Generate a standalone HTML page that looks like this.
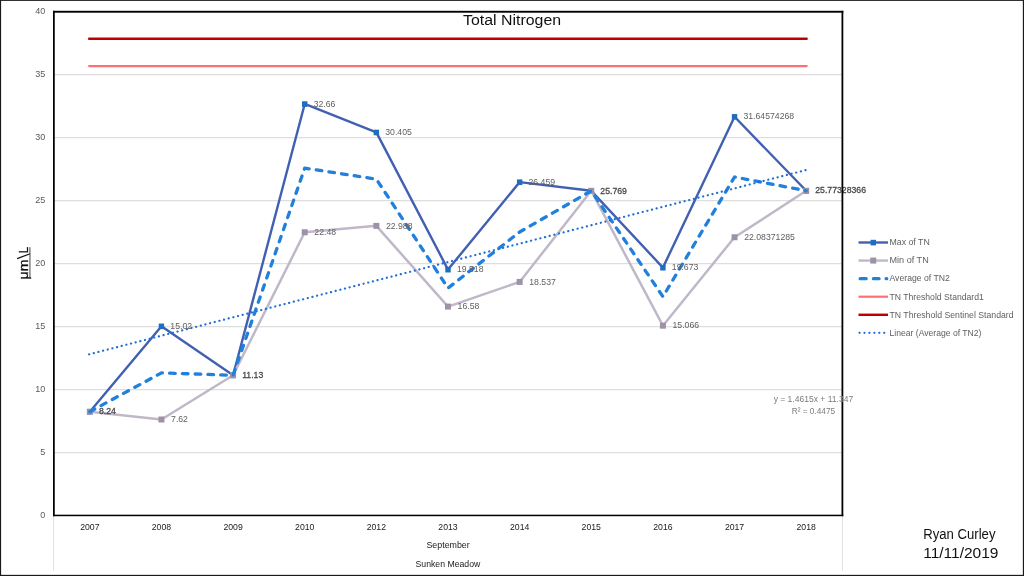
<!DOCTYPE html>
<html><head><meta charset="utf-8"><title>Total Nitrogen</title>
<style>html,body{margin:0;padding:0;background:#fff;}body{width:1024px;height:576px;overflow:hidden;font-family:"Liberation Sans",sans-serif;}svg{display:block;will-change:transform;}text{font-family:"Liberation Sans",sans-serif;}</style>
</head><body>
<svg width="1024" height="576" viewBox="0 0 1024 576">
<rect x="0" y="0" width="1024" height="576" fill="#ffffff"/>
<line x1="54.0" x2="842.0" y1="452.60" y2="452.60" stroke="#dedede" stroke-width="1.2"/>
<line x1="54.0" x2="842.0" y1="389.60" y2="389.60" stroke="#dedede" stroke-width="1.2"/>
<line x1="54.0" x2="842.0" y1="326.60" y2="326.60" stroke="#dedede" stroke-width="1.2"/>
<line x1="54.0" x2="842.0" y1="263.60" y2="263.60" stroke="#dedede" stroke-width="1.2"/>
<line x1="54.0" x2="842.0" y1="200.60" y2="200.60" stroke="#dedede" stroke-width="1.2"/>
<line x1="54.0" x2="842.0" y1="137.60" y2="137.60" stroke="#dedede" stroke-width="1.2"/>
<line x1="54.0" x2="842.0" y1="74.60" y2="74.60" stroke="#dedede" stroke-width="1.2"/>
<line x1="53.5" x2="53.5" y1="516" y2="571" stroke="#e2e2e2" stroke-width="1"/>
<line x1="842.5" x2="842.5" y1="516" y2="571" stroke="#e2e2e2" stroke-width="1"/>
<polyline points="89.82,411.68 161.45,326.25 233.09,375.26 304.73,103.98 376.36,132.40 448.00,269.57 519.64,182.12 591.27,190.81 662.91,267.62 734.55,116.76 806.18,190.76" fill="none" stroke="#4160b0" stroke-width="2.4" stroke-linejoin="round" stroke-linecap="round"/>
<rect x="87.12" y="408.98" width="5.4" height="5.6" fill="#1f6dc1"/>
<rect x="158.75" y="323.55" width="5.4" height="5.6" fill="#1f6dc1"/>
<rect x="230.39" y="372.56" width="5.4" height="5.6" fill="#1f6dc1"/>
<rect x="302.03" y="101.28" width="5.4" height="5.6" fill="#1f6dc1"/>
<rect x="373.66" y="129.70" width="5.4" height="5.6" fill="#1f6dc1"/>
<rect x="445.30" y="266.87" width="5.4" height="5.6" fill="#1f6dc1"/>
<rect x="516.94" y="179.42" width="5.4" height="5.6" fill="#1f6dc1"/>
<rect x="588.57" y="188.11" width="5.4" height="5.6" fill="#1f6dc1"/>
<rect x="660.21" y="264.92" width="5.4" height="5.6" fill="#1f6dc1"/>
<rect x="731.85" y="114.06" width="5.4" height="5.6" fill="#1f6dc1"/>
<rect x="803.48" y="188.06" width="5.4" height="5.6" fill="#1f6dc1"/>
<polyline points="89.82,411.68 161.45,419.49 233.09,375.26 304.73,232.25 376.36,225.85 448.00,306.59 519.64,281.93 591.27,190.81 662.91,325.67 734.55,237.25 806.18,190.76" fill="none" stroke="#c0b8c8" stroke-width="2.5" stroke-linejoin="round" stroke-linecap="round"/>
<rect x="86.82" y="408.68" width="6" height="6" fill="#9e92a9"/>
<rect x="158.45" y="416.49" width="6" height="6" fill="#9e92a9"/>
<rect x="230.09" y="372.26" width="6" height="6" fill="#9e92a9"/>
<rect x="301.73" y="229.25" width="6" height="6" fill="#9e92a9"/>
<rect x="373.36" y="222.85" width="6" height="6" fill="#9e92a9"/>
<rect x="445.00" y="303.59" width="6" height="6" fill="#9e92a9"/>
<rect x="516.64" y="278.93" width="6" height="6" fill="#9e92a9"/>
<rect x="588.27" y="187.81" width="6" height="6" fill="#9e92a9"/>
<rect x="659.91" y="322.67" width="6" height="6" fill="#9e92a9"/>
<rect x="731.55" y="234.25" width="6" height="6" fill="#9e92a9"/>
<rect x="803.18" y="187.76" width="6" height="6" fill="#9e92a9"/>
<polyline points="89.82,411.68 161.45,372.87 233.09,375.26 304.73,168.12 376.36,179.12 448.00,288.08 519.64,232.03 591.27,190.81 662.91,296.64 734.55,177.00 806.18,190.76" fill="none" stroke="#2180dc" stroke-width="3.3" stroke-dasharray="5.6 7.2" stroke-linejoin="round" stroke-linecap="round"/>
<line x1="89.12" x2="806.68" y1="66.06" y2="66.06" stroke="#ff7075" stroke-width="2.2" stroke-linecap="round"/>
<line x1="89.12" x2="806.68" y1="38.72" y2="38.72" stroke="#c00000" stroke-width="2.4" stroke-linecap="round"/>
<line x1="89.12" y1="354.29" x2="806.48" y2="169.89" stroke="#1f6fd6" stroke-width="2.2" stroke-dasharray="0.1 4.703" stroke-linecap="round"/>
<text x="98.92" y="414.38" font-size="8.7" fill="#484848" stroke="#484848" stroke-width="0.28">8.24</text>
<text x="170.35" y="328.95" font-size="8.7" fill="#606060">15.02</text>
<text x="242.19" y="377.96" font-size="8.7" fill="#484848" stroke="#484848" stroke-width="0.28">11.13</text>
<text x="313.63" y="106.68" font-size="8.7" fill="#606060">32.66</text>
<text x="385.26" y="135.10" font-size="8.7" fill="#606060">30.405</text>
<text x="456.90" y="272.27" font-size="8.7" fill="#606060">19.518</text>
<text x="528.54" y="184.82" font-size="8.7" fill="#606060">26.459</text>
<text x="600.37" y="193.51" font-size="8.7" fill="#484848" stroke="#484848" stroke-width="0.28">25.769</text>
<text x="671.81" y="270.32" font-size="8.7" fill="#606060">19.673</text>
<text x="743.45" y="119.46" font-size="8.7" fill="#606060">31.64574268</text>
<text x="815.28" y="193.46" font-size="8.7" fill="#484848" stroke="#484848" stroke-width="0.28">25.77328366</text>
<text x="171.05" y="422.19" font-size="8.7" fill="#606060">7.62</text>
<text x="314.33" y="234.95" font-size="8.7" fill="#606060">22.48</text>
<text x="385.96" y="228.55" font-size="8.7" fill="#606060">22.988</text>
<text x="457.60" y="309.29" font-size="8.7" fill="#606060">16.58</text>
<text x="529.24" y="284.63" font-size="8.7" fill="#606060">18.537</text>
<text x="672.51" y="328.37" font-size="8.7" fill="#606060">15.066</text>
<text x="744.15" y="239.95" font-size="8.7" fill="#606060">22.08371285</text>
<rect x="53" y="10.8" width="1.75" height="505.4" fill="#000"/>
<rect x="53" y="10.8" width="790.3" height="1.9" fill="#000"/>
<rect x="841.5" y="10.8" width="1.8" height="505.4" fill="#000"/>
<rect x="53" y="514.7" width="790.3" height="1.5" fill="#000"/>
<text x="813.4" y="402.0" font-size="9" fill="#7c7c7c" text-anchor="middle" textLength="79.5" lengthAdjust="spacingAndGlyphs">y = 1.4615x + 11.347</text>
<text x="813.4" y="413.8" font-size="9" fill="#7c7c7c" text-anchor="middle" textLength="43.4" lengthAdjust="spacingAndGlyphs">R² = 0.4475</text>
<text x="45.3" y="518.20" font-size="9" fill="#595959" text-anchor="end">0</text>
<text x="45.3" y="455.20" font-size="9" fill="#595959" text-anchor="end">5</text>
<text x="45.3" y="392.20" font-size="9" fill="#595959" text-anchor="end">10</text>
<text x="45.3" y="329.20" font-size="9" fill="#595959" text-anchor="end">15</text>
<text x="45.3" y="266.20" font-size="9" fill="#595959" text-anchor="end">20</text>
<text x="45.3" y="203.20" font-size="9" fill="#595959" text-anchor="end">25</text>
<text x="45.3" y="140.20" font-size="9" fill="#595959" text-anchor="end">30</text>
<text x="45.3" y="77.20" font-size="9" fill="#595959" text-anchor="end">35</text>
<text x="45.3" y="14.20" font-size="9" fill="#595959" text-anchor="end">40</text>
<text x="89.82" y="529.7" font-size="8.7" fill="#1a1a1a" text-anchor="middle">2007</text>
<text x="161.45" y="529.7" font-size="8.7" fill="#1a1a1a" text-anchor="middle">2008</text>
<text x="233.09" y="529.7" font-size="8.7" fill="#1a1a1a" text-anchor="middle">2009</text>
<text x="304.73" y="529.7" font-size="8.7" fill="#1a1a1a" text-anchor="middle">2010</text>
<text x="376.36" y="529.7" font-size="8.7" fill="#1a1a1a" text-anchor="middle">2012</text>
<text x="448.00" y="529.7" font-size="8.7" fill="#1a1a1a" text-anchor="middle">2013</text>
<text x="519.64" y="529.7" font-size="8.7" fill="#1a1a1a" text-anchor="middle">2014</text>
<text x="591.27" y="529.7" font-size="8.7" fill="#1a1a1a" text-anchor="middle">2015</text>
<text x="662.91" y="529.7" font-size="8.7" fill="#1a1a1a" text-anchor="middle">2016</text>
<text x="734.55" y="529.7" font-size="8.7" fill="#1a1a1a" text-anchor="middle">2017</text>
<text x="806.18" y="529.7" font-size="8.7" fill="#1a1a1a" text-anchor="middle">2018</text>
<text x="448.1" y="548" font-size="9" fill="#1a1a1a" text-anchor="middle" textLength="43.3" lengthAdjust="spacingAndGlyphs">September</text>
<text x="447.9" y="567" font-size="9" fill="#1a1a1a" text-anchor="middle" textLength="64.8" lengthAdjust="spacingAndGlyphs">Sunken Meadow</text>
<text x="512.1" y="24.5" font-size="15.1" fill="#111" text-anchor="middle" textLength="98" lengthAdjust="spacingAndGlyphs">Total Nitrogen</text>
<g transform="translate(27.8,279.5) rotate(-90)">
<text x="0" y="0" font-size="12.8" fill="#111" stroke="#111" stroke-width="0.3" textLength="19.9" lengthAdjust="spacingAndGlyphs">μm</text>
<line x1="20.9" y1="-10.6" x2="25.75" y2="2.3" stroke="#111" stroke-width="1.25"/>
<text x="26.25" y="0" font-size="12.8" fill="#111" stroke="#111" stroke-width="0.3" textLength="6.5" lengthAdjust="spacingAndGlyphs">L</text>
<line x1="0.75" y1="2.15" x2="32.3" y2="2.15" stroke="#444" stroke-width="1"/>
</g>
<line x1="858.5" x2="888" y1="242.5" y2="242.5" stroke="#4160b0" stroke-width="2.4"/>
<rect x="870.55" y="239.8" width="5.4" height="5.6" fill="#1f6dc1"/>
<line x1="858.5" x2="888" y1="260.57" y2="260.57" stroke="#c0b8c8" stroke-width="2.4"/>
<rect x="870.25" y="257.57" width="6" height="6" fill="#9e92a9"/>
<path d="M860.1 278.64H866.2M873.4 278.64H879.1M886.1 278.64H886.8" stroke="#2180dc" stroke-width="3.2" stroke-linecap="round" fill="none"/>
<line x1="858.5" x2="888" y1="296.71" y2="296.71" stroke="#ff7075" stroke-width="2.2"/>
<line x1="858.5" x2="888" y1="314.78" y2="314.78" stroke="#c00000" stroke-width="2.4"/>
<line x1="859.5" x2="888" y1="332.85" y2="332.85" stroke="#1f6fd6" stroke-width="2.2" stroke-dasharray="0.1 4.84" stroke-linecap="round"/>
<text x="889.5" y="245.30" font-size="9" fill="#606060" textLength="40.2" lengthAdjust="spacingAndGlyphs">Max of TN</text>
<text x="889.5" y="263.37" font-size="9" fill="#606060" textLength="39.2" lengthAdjust="spacingAndGlyphs">Min of TN</text>
<text x="889.5" y="281.44" font-size="9" fill="#606060" textLength="60.3" lengthAdjust="spacingAndGlyphs">Average of TN2</text>
<text x="889.5" y="299.51" font-size="9" fill="#606060" textLength="94.3" lengthAdjust="spacingAndGlyphs">TN Threshold Standard1</text>
<text x="889.5" y="317.58" font-size="9" fill="#606060" textLength="124.1" lengthAdjust="spacingAndGlyphs">TN Threshold Sentinel Standard</text>
<text x="889.5" y="335.65" font-size="9" fill="#606060" textLength="91.9" lengthAdjust="spacingAndGlyphs">Linear (Average of TN2)</text>
<text x="923.2" y="539.1" font-size="15.1" fill="#111" textLength="72.3" lengthAdjust="spacingAndGlyphs">Ryan Curley</text>
<text x="923.2" y="558.1" font-size="15.1" fill="#111" textLength="75.3" lengthAdjust="spacingAndGlyphs">11/11/2019</text>
<rect x="0" y="0" width="1.1" height="576" fill="#1a1a1a"/>
<rect x="0" y="0" width="1024" height="0.9" fill="#1a1a1a"/>
<rect x="0" y="574.85" width="1024" height="1.15" fill="#1a1a1a"/>
<rect x="1022.85" y="0" width="1.15" height="576" fill="#1a1a1a"/>
</svg>
</body></html>
